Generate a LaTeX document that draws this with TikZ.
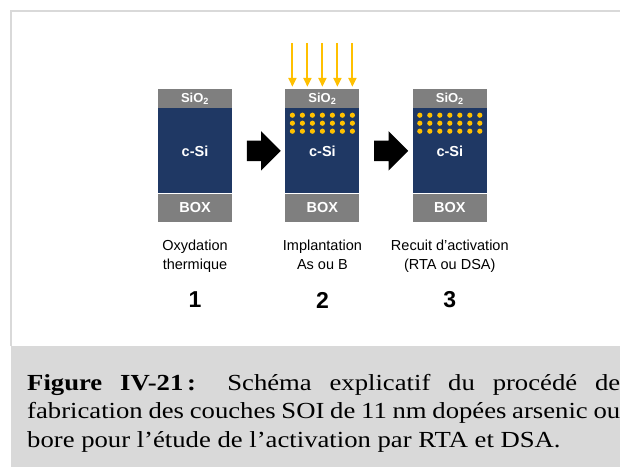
\documentclass[tikz,border=0pt]{standalone}
\usepackage{fontspec}
\setmainfont{Liberation Serif}
\setsansfont{Liberation Sans}
\newfontfamily\capfont[FakeStretch=1.16]{Liberation Serif}
\usetikzlibrary{positioning,shapes.arrows,arrows.meta,calc}
\definecolor{oxgray}{RGB}{127,127,127}
\definecolor{sinavy}{RGB}{31,56,100}
\definecolor{dopyellow}{RGB}{255,192,0}
\definecolor{framegray}{RGB}{217,217,217}

\begin{document}
\begin{tikzpicture}[x=1pt, y=-1pt,
    layer/.style={minimum width=74pt, inner sep=0pt, text=white},
    oxide/.style={layer, fill=oxgray, minimum height=19pt, font=\sffamily\bfseries\fontsize{13}{14}\selectfont},
    silicon/.style={layer, fill=sinavy, minimum height=85pt, font=\sffamily\bfseries\fontsize{14.5}{16}\selectfont},
    boxlayer/.style={layer, fill=oxgray, minimum height=28pt, font=\sffamily\bfseries\fontsize{14.5}{16}\selectfont},
    steplabel/.style={align=center, anchor=north, inner sep=0pt, font=\sffamily\fontsize{14.5}{19}\selectfont},
    stepnum/.style={inner sep=0pt, font=\sffamily\bfseries\fontsize{23}{26}\selectfont},
    blockarrow/.style={single arrow, fill=black, inner sep=0pt, text height=10pt, text depth=10pt,
      minimum height=34pt, single arrow head extend=9.5pt, single arrow head indent=0pt},
    beam/.style={draw=dopyellow, line width=2pt, shorten >=2pt, -{Triangle[width=8pt,length=9pt]}}]
    \useasboundingbox (0,0) rectangle (620,467);

    % Frame and caption band
    \fill[framegray] (11,346) rectangle (620,467);
    \draw[framegray, line width=1.5pt] (11,346) -- (11,11) -- (620,11);

    % Stacks
    \node[oxide] (ox1) at (195,98.5) {SiO\textsubscript{2}};
    \node[silicon, below=0pt of ox1] (si1) {c-Si};
    \node[boxlayer, below=0pt of si1] (box1) {BOX};

    \node[oxide, right=53pt of ox1] (ox2) {SiO\textsubscript{2}};
    \node[silicon, below=0pt of ox2] (si2) {c-Si};
    \node[boxlayer, below=0pt of si2] (box2) {BOX};

    \node[oxide, right=53pt of ox2] (ox3) {SiO\textsubscript{2}};
    \node[silicon, below=0pt of ox3] (si3) {c-Si};
    \node[boxlayer, below=0pt of si3] (box3) {BOX};

    % Dopants
    \foreach \s in {2,3}
      \foreach \col in {0,...,6}
        \foreach \row in {0,1,2}
          \fill[dopyellow] ($(si\s.north)+(-30+10*\col,7+8*\row)$) circle (2.6pt);

    % Implantation beam
    \foreach \k in {-2,...,2} {
      \coordinate (src\k) at ($(ox2.north)+(15*\k,-46)$);
      \draw[beam] (src\k) -- (src\k |- ox2.north);
    }

    % Process arrows
    \node[blockarrow] (arr1) at ($(si1.east)!0.5!(si2.west)$) {};
    \node[blockarrow] (arr2) at ($(si2.east)!0.5!(si3.west)$) {};

    % Labels
    \coordinate (labrow) at (0,236.5);
    \coordinate (numrow) at (0,300);
    \node[steplabel] (lab1) at (box1 |- labrow) {\strut Oxydation\\thermique};
    \node[steplabel] (lab2) at (box2 |- labrow) {\strut Implantation\\As ou B};
    \node[steplabel] (lab3) at (box3 |- labrow) {\strut Recuit d’activation\\(RTA ou DSA)};
    \node[stepnum] (num1) at (box1 |- numrow) {1};
    \node[stepnum] (num2) at (box2 |- numrow) {2};
    \node[stepnum] (num3) at (box3 |- numrow) {3};

    % Caption
    \node[anchor=north west, text width=593pt, align=justify, inner sep=0pt,
          font=\capfont\fontsize{23}{28.5}\selectfont] (caption) at (27,374)
      {\textbf{Figure IV-21\,:} Schéma explicatif du procédé de\linebreak
       fabrication des couches SOI de 11 nm dopées arsenic ou\linebreak
       bore pour l’étude de l’activation par RTA et DSA.};
\end{tikzpicture}
\end{document}
